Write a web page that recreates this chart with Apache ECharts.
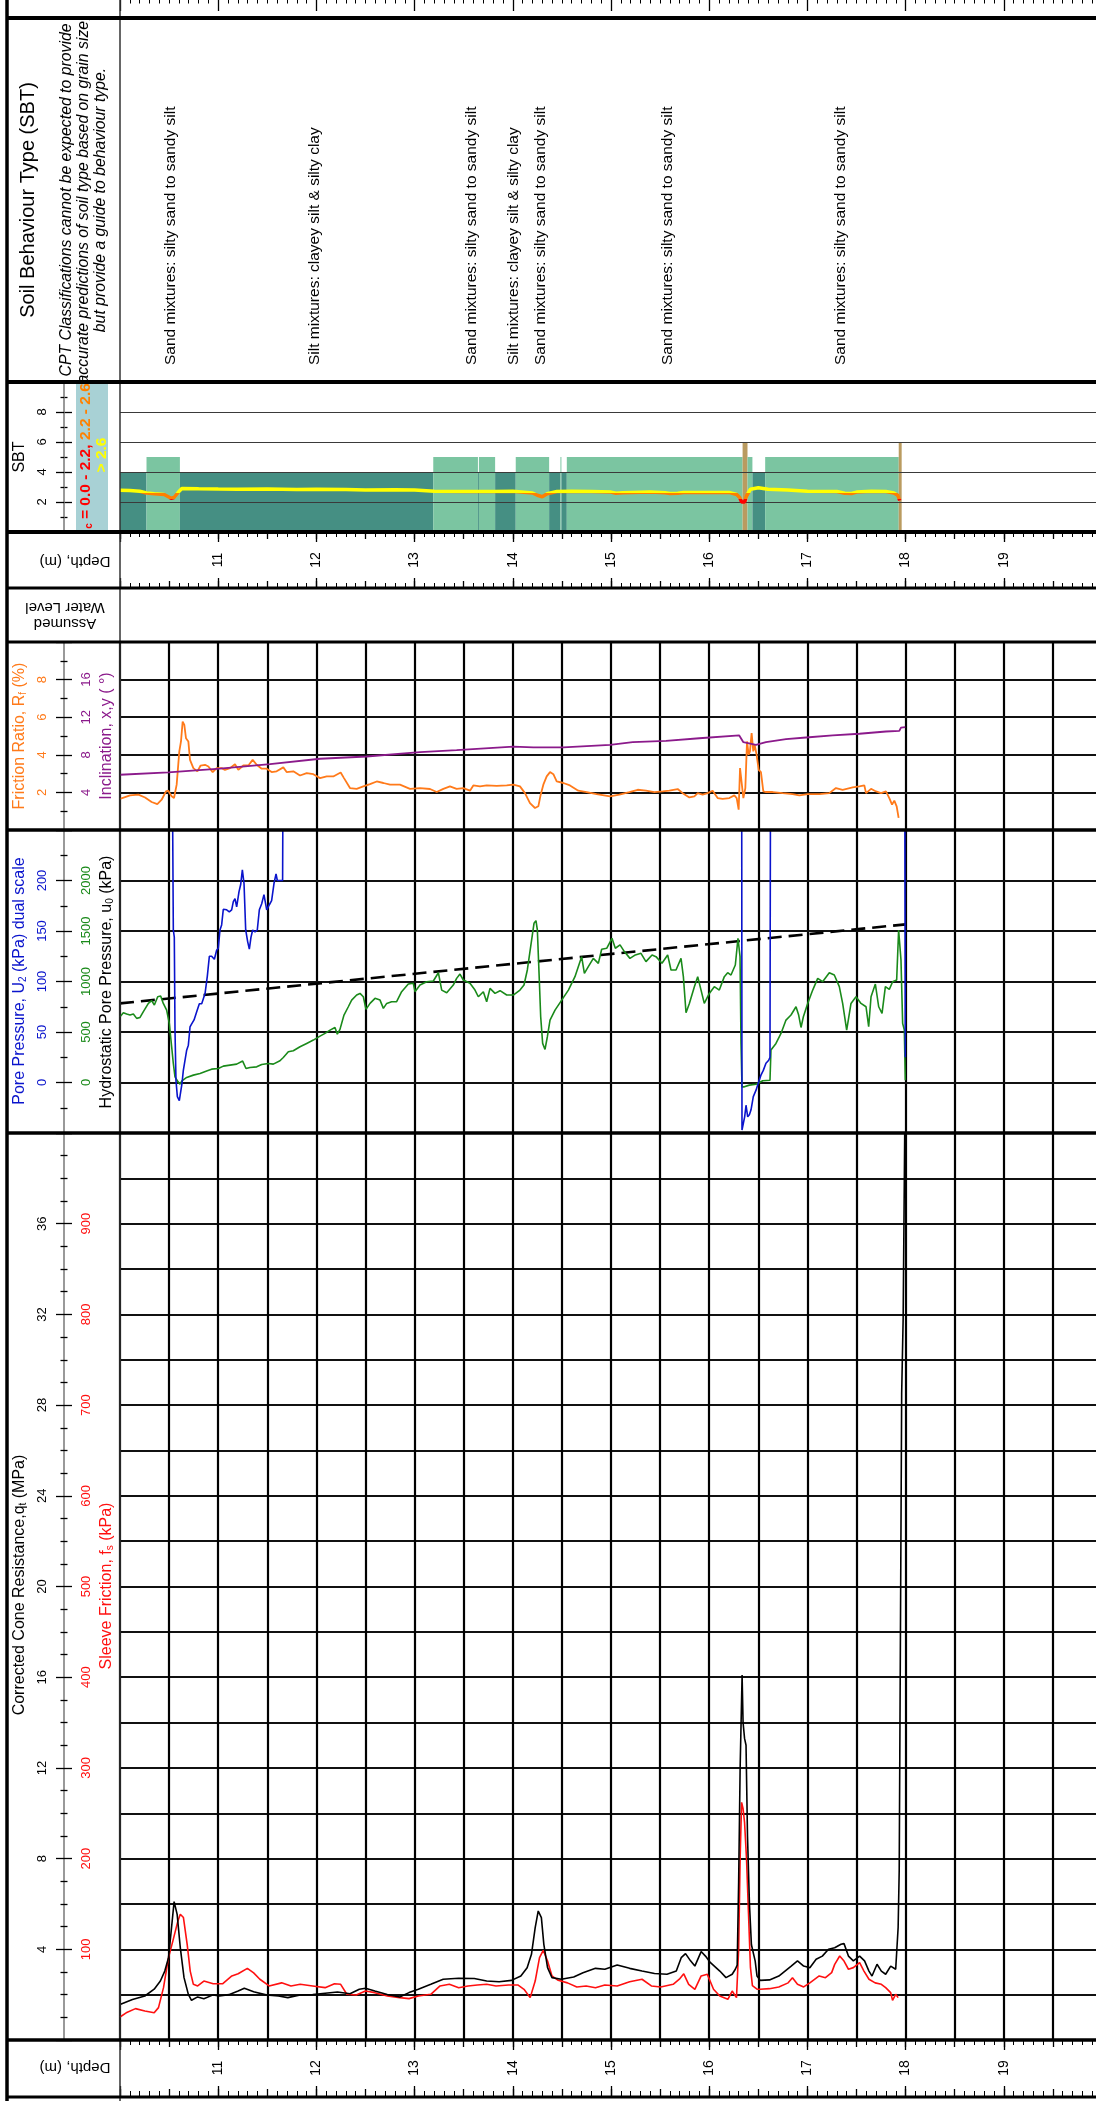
<!DOCTYPE html>
<html>
<head>
<meta charset="utf-8">
<title>CPT log</title>
<script src="https://cdn.jsdelivr.net/npm/echarts@6/dist/echarts.min.js"></script>
<style>
  html, body { margin: 0; padding: 0; background: #fff; }
  #chart { width: 1096px; height: 2101px; }
</style>
</head>
<body>
<div id="chart"></div>
<script>
// ---------------------------------------------------------------------------
// Data (depth in m)
// ---------------------------------------------------------------------------
const depthTickLabels = [11, 12, 13, 14, 15, 16, 17, 18, 19];

// Soil behaviour type zones: top, base, zone number
const zoneTop  = [10.00, 10.27, 10.61, 13.19, 13.645, 13.655, 13.82, 14.03, 14.37, 14.485, 14.495, 14.55, 16.34, 16.39, 16.44, 16.57, 17.93];
const zoneBase = [10.27, 10.61, 13.19, 13.645, 13.655, 13.82, 14.03, 14.37, 14.485, 14.495, 14.55, 16.34, 16.39, 16.44, 16.57, 17.93, 17.96];
const zoneNo   = [4, 5, 4, 5, 4, 5, 4, 5, 4, 5, 4, 5, 6, 5, 4, 5, 6];

// Interpreted layers with their description
const layerTop  = [10.27, 10.61, 13.19, 13.82, 14.03, 14.55, 16.57];
const layerBase = [10.61, 13.19, 13.82, 14.03, 14.37, 16.44, 17.95];
const layerName = [
  'Sand mixtures: silty sand to sandy silt',
  'Silt mixtures: clayey silt & silty clay',
  'Sand mixtures: silty sand to sandy silt',
  'Silt mixtures: clayey silt & silty clay',
  'Sand mixtures: silty sand to sandy silt',
  'Sand mixtures: silty sand to sandy silt',
  'Sand mixtures: silty sand to sandy silt'
];

// Soil behaviour type index Ic
const icProfile = [
  [10.00, 2.78], [10.10, 2.76], [10.20, 2.72], [10.27, 2.60], [10.35, 2.55], [10.45, 2.50],
  [10.52, 2.25], [10.55, 2.30], [10.60, 2.70], [10.63, 2.90], [10.80, 2.88], [11.00, 2.86],
  [11.20, 2.85], [11.50, 2.86], [11.80, 2.84], [12.00, 2.85], [12.30, 2.84], [12.50, 2.80],
  [12.80, 2.82], [13.00, 2.80], [13.20, 2.72], [13.50, 2.70], [13.80, 2.70], [14.00, 2.72],
  [14.20, 2.60], [14.25, 2.45], [14.30, 2.35], [14.35, 2.55], [14.45, 2.70], [14.60, 2.72],
  [14.80, 2.70], [15.00, 2.66], [15.05, 2.58], [15.12, 2.62], [15.40, 2.66], [15.55, 2.62],
  [15.60, 2.57], [15.68, 2.58], [15.74, 2.63], [16.00, 2.64], [16.20, 2.64], [16.28, 2.50],
  [16.31, 2.30], [16.33, 2.00], [16.36, 2.00], [16.38, 2.40], [16.42, 2.85], [16.50, 2.95],
  [16.60, 2.85], [16.80, 2.80], [17.00, 2.72], [17.30, 2.70], [17.38, 2.58], [17.45, 2.57],
  [17.50, 2.66], [17.65, 2.72], [17.80, 2.70], [17.88, 2.60], [17.92, 2.45], [17.94, 2.10]
];

// Friction ratio Rf (%)
const frictionRatio = [
  [10.000, 1.66], [10.102, 1.84], [10.187, 1.88], [10.255, 1.73], [10.322, 1.49], [10.380, 1.38],
  [10.424, 1.61], [10.468, 2.05], [10.492, 2.09], [10.526, 1.79], [10.550, 1.70], [10.577, 2.41],
  [10.604, 4.18], [10.621, 4.71], [10.638, 5.77], [10.655, 5.59], [10.672, 4.88], [10.696, 4.71],
  [10.713, 3.73], [10.747, 3.29], [10.788, 3.12], [10.821, 3.43], [10.866, 3.47], [10.900, 3.38],
  [10.944, 3.08], [10.984, 3.29], [11.035, 3.29], [11.069, 3.20], [11.120, 3.29], [11.171, 3.50],
  [11.205, 3.20], [11.256, 3.43], [11.307, 3.43], [11.351, 3.73], [11.392, 3.47], [11.443, 3.26],
  [11.494, 3.26], [11.544, 3.08], [11.595, 3.12], [11.663, 3.33], [11.697, 3.08], [11.765, 3.12],
  [11.833, 2.90], [11.901, 3.03], [11.969, 2.97], [12.037, 2.76], [12.105, 2.85], [12.172, 2.85],
  [12.247, 3.06], [12.281, 2.76], [12.342, 2.23], [12.410, 2.19], [12.478, 2.32], [12.546, 2.44],
  [12.614, 2.58], [12.682, 2.50], [12.750, 2.41], [12.851, 2.41], [12.953, 2.19], [13.055, 2.23],
  [13.157, 2.18], [13.225, 2.02], [13.293, 2.19], [13.360, 2.32], [13.428, 2.19], [13.496, 2.23],
  [13.564, 2.09], [13.598, 2.37], [13.666, 2.32], [13.734, 2.37], [13.836, 2.35], [13.938, 2.37],
  [14.005, 2.41], [14.073, 2.32], [14.124, 1.96], [14.175, 1.43], [14.226, 1.17], [14.260, 1.26],
  [14.284, 1.88], [14.311, 2.41], [14.345, 2.85], [14.379, 3.08], [14.413, 2.97], [14.447, 2.58],
  [14.515, 2.50], [14.582, 2.37], [14.667, 2.09], [14.752, 2.02], [14.854, 1.91], [14.990, 1.79],
  [15.085, 1.88], [15.187, 2.02], [15.272, 2.14], [15.356, 2.09], [15.441, 2.02], [15.526, 2.05],
  [15.594, 2.09], [15.679, 2.18], [15.730, 1.96], [15.798, 1.73], [15.849, 1.79], [15.883, 1.96],
  [15.933, 1.88], [15.984, 1.96], [16.035, 2.09], [16.086, 1.70], [16.137, 1.66], [16.205, 1.70],
  [16.256, 1.84], [16.280, 1.70], [16.300, 1.08], [16.314, 3.29], [16.331, 3.38], [16.348, 1.70],
  [16.368, 2.23], [16.385, 4.71], [16.402, 4.00], [16.415, 4.18], [16.432, 5.15], [16.449, 4.18],
  [16.463, 4.53], [16.483, 4.00], [16.504, 3.20], [16.527, 3.08], [16.551, 2.05], [16.578, 2.02],
  [16.646, 2.02], [16.748, 1.96], [16.850, 1.91], [16.918, 1.84], [17.003, 1.91], [17.122, 1.91],
  [17.223, 1.96], [17.291, 2.23], [17.359, 2.14], [17.461, 2.27], [17.529, 2.32], [17.580, 2.37],
  [17.597, 1.96], [17.648, 2.19], [17.699, 2.05], [17.750, 1.96], [17.800, 2.05], [17.834, 1.70],
  [17.862, 1.35], [17.885, 1.56], [17.909, 1.26], [17.929, 0.64]
];

// Cone inclination (degrees)
const inclination = [
  [10.000, 5.88], [10.492, 6.12], [11.018, 6.52], [11.528, 7.00], [12.037, 7.58], [12.512, 7.82],
  [13.055, 8.28], [13.428, 8.50], [14.005, 8.88], [14.209, 8.78], [14.515, 8.78], [14.990, 9.06],
  [15.221, 9.34], [15.560, 9.48], [15.899, 9.76], [16.306, 10.06], [16.348, 9.34], [16.476, 9.06],
  [16.578, 9.34], [16.782, 9.66], [16.986, 9.84], [17.258, 10.06], [17.529, 10.24], [17.800, 10.48],
  [17.936, 10.54], [17.953, 10.90], [17.997, 10.94]
];

// Pore pressure u2 (kPa), fine scale
const porePressure = [
  [10.000, 400], [10.520, 400], [10.536, 260], [10.543, 151], [10.553, 144], [10.560, 52],
  [10.570, 2], [10.584, -14], [10.604, -18], [10.621, -19], [10.631, -1], [10.645, 12],
  [10.662, 12], [10.679, 32], [10.696, 37], [10.713, 55], [10.730, 58], [10.754, 62],
  [10.781, 70], [10.808, 78], [10.832, 78], [10.866, 88], [10.889, 105], [10.910, 125],
  [10.933, 125], [10.961, 122], [10.984, 131], [11.001, 133], [11.018, 151], [11.035, 156],
  [11.052, 171.5], [11.086, 171], [11.113, 169], [11.137, 171], [11.154, 179], [11.171, 182],
  [11.188, 174], [11.212, 189], [11.229, 196], [11.246, 210.5], [11.263, 197], [11.280, 151],
  [11.300, 139.5], [11.317, 132], [11.334, 144], [11.351, 151], [11.375, 149], [11.398, 151],
  [11.419, 171], [11.443, 177], [11.466, 186], [11.494, 171], [11.521, 176], [11.544, 180],
  [11.568, 197], [11.589, 206.5], [11.602, 200], [11.656, 200], [11.663, 400], [16.330, 400],
  [16.334, -47], [16.348, -47], [16.361, -34], [16.375, -22.5], [16.392, -34], [16.409, -32],
  [16.426, -27], [16.449, -14], [16.477, -7.6], [16.504, 0.7], [16.527, 7.3], [16.551, 12],
  [16.578, 19], [16.606, 22], [16.619, 25], [16.626, 400], [17.990, 400], [17.997, 25]
];

// Pore pressure u2 (kPa), coarse scale
const porePressureCoarse = [
  [10.000, 651], [10.034, 691], [10.068, 678], [10.102, 668], [10.136, 678], [10.170, 635],
  [10.204, 644], [10.238, 701], [10.289, 783], [10.322, 810], [10.350, 767], [10.384, 849],
  [10.414, 856], [10.441, 783], [10.475, 717], [10.502, 585], [10.526, 354], [10.543, 188],
  [10.560, 56], [10.584, 17], [10.611, -17], [10.631, 17], [10.679, 50], [10.747, 73],
  [10.815, 89], [10.889, 116], [10.933, 132], [11.001, 139], [11.052, 162], [11.120, 172],
  [11.188, 182], [11.249, 212], [11.283, 139], [11.324, 149], [11.392, 155], [11.443, 178],
  [11.511, 188], [11.561, 182], [11.629, 215], [11.663, 248], [11.714, 304], [11.765, 314],
  [11.833, 354], [11.901, 387], [11.969, 420], [12.037, 459], [12.088, 486], [12.139, 519],
  [12.189, 545], [12.213, 479], [12.240, 526], [12.281, 668], [12.325, 750], [12.359, 816],
  [12.410, 866], [12.444, 882], [12.478, 849], [12.505, 724], [12.546, 783], [12.597, 833],
  [12.648, 816], [12.682, 734], [12.716, 783], [12.766, 800], [12.817, 800], [12.868, 899],
  [12.936, 975], [12.987, 982], [13.004, 899], [13.055, 965], [13.123, 998], [13.191, 1005],
  [13.242, 1087], [13.276, 915], [13.327, 889], [13.394, 965], [13.428, 1031], [13.462, 1074],
  [13.496, 1015], [13.564, 982], [13.615, 915], [13.649, 849], [13.700, 899], [13.734, 800],
  [13.768, 932], [13.819, 882], [13.870, 909], [13.938, 866], [14.005, 866], [14.073, 915],
  [14.114, 965], [14.148, 1114], [14.182, 1345], [14.216, 1576], [14.236, 1603], [14.250, 1510],
  [14.270, 1015], [14.284, 651], [14.304, 387], [14.328, 327], [14.352, 453], [14.379, 618],
  [14.430, 717], [14.498, 816], [14.566, 915], [14.633, 1048], [14.701, 1246], [14.729, 1081],
  [14.769, 1147], [14.820, 1229], [14.871, 1180], [14.905, 1319], [14.956, 1329], [15.010, 1428],
  [15.044, 1329], [15.092, 1362], [15.136, 1296], [15.193, 1229], [15.248, 1263], [15.305, 1279],
  [15.356, 1197], [15.418, 1263], [15.458, 1246], [15.519, 1180], [15.577, 1263], [15.611, 1114],
  [15.662, 1114], [15.713, 1229], [15.737, 1048], [15.764, 691], [15.798, 783], [15.849, 949],
  [15.883, 1048], [15.917, 915], [15.950, 783], [16.001, 882], [16.052, 949], [16.103, 915],
  [16.154, 1048], [16.188, 1087], [16.222, 1064], [16.266, 1163], [16.293, 1428], [16.314, 1246],
  [16.324, 387], [16.334, -43], [16.358, -43], [16.409, -26], [16.477, -17], [16.545, 17],
  [16.619, 23], [16.629, 321], [16.680, 387], [16.731, 486], [16.782, 618], [16.833, 668],
  [16.884, 750], [16.911, 668], [16.935, 545], [16.959, 651], [17.003, 783], [17.054, 915],
  [17.105, 1031], [17.155, 998], [17.223, 1087], [17.274, 1064], [17.325, 949], [17.359, 783],
  [17.400, 519], [17.444, 783], [17.495, 849], [17.546, 783], [17.597, 750], [17.624, 552],
  [17.648, 849], [17.692, 975], [17.726, 750], [17.760, 684], [17.794, 949], [17.834, 922],
  [17.868, 998], [17.909, 1015], [17.929, 1510], [17.953, 1213], [17.970, 585], [17.987, 519],
  [17.997, 23]
];

// Hydrostatic pore pressure u0 (kPa)
const hydrostatic = [[10.0, 78.3], [18.0, 156.6]];

// Corrected cone resistance qt (MPa)
const coneResistance = [
  [10.000, 1.57], [10.127, 1.79], [10.253, 1.94], [10.348, 2.24], [10.411, 2.60], [10.456, 3.04],
  [10.494, 3.63], [10.525, 4.96], [10.551, 6.10], [10.582, 5.54], [10.614, 4.07], [10.652, 2.75],
  [10.696, 2.01], [10.728, 1.75], [10.791, 1.90], [10.854, 1.82], [10.949, 1.99], [11.013, 1.94],
  [11.108, 2.00], [11.203, 2.16], [11.266, 2.28], [11.361, 2.13], [11.487, 1.99], [11.614, 1.94],
  [11.709, 1.87], [11.835, 1.99], [11.962, 2.00], [12.089, 2.06], [12.215, 2.12], [12.342, 2.04],
  [12.437, 2.24], [12.500, 2.28], [12.595, 2.16], [12.722, 2.01], [12.848, 1.90], [12.943, 2.09],
  [13.038, 2.24], [13.165, 2.46], [13.291, 2.68], [13.449, 2.72], [13.608, 2.71], [13.734, 2.60],
  [13.861, 2.57], [13.987, 2.63], [14.082, 2.82], [14.146, 3.19], [14.190, 3.78], [14.228, 4.96],
  [14.259, 5.69], [14.291, 5.40], [14.316, 4.22], [14.354, 3.19], [14.399, 2.75], [14.494, 2.68],
  [14.620, 2.78], [14.715, 2.97], [14.842, 3.16], [14.937, 3.12], [15.063, 3.31], [15.190, 3.16],
  [15.316, 3.04], [15.443, 2.93], [15.570, 2.90], [15.665, 3.04], [15.715, 3.63], [15.759, 3.81],
  [15.810, 3.49], [15.854, 3.26], [15.918, 3.90], [15.962, 3.70], [16.013, 3.41], [16.108, 3.04],
  [16.171, 2.75], [16.234, 2.90], [16.266, 3.12], [16.285, 3.30], [16.300, 7.0], [16.315, 12.0],
  [16.335, 16.1], [16.345, 14.0], [16.360, 13.3], [16.375, 13.0], [16.390, 9.0], [16.410, 6.0],
  [16.430, 4.2], [16.468, 3.49], [16.487, 2.82], [16.519, 2.63], [16.614, 2.65], [16.709, 2.82],
  [16.835, 3.26], [16.899, 3.49], [16.962, 3.26], [17.025, 3.19], [17.089, 3.56], [17.152, 3.70],
  [17.215, 4.00], [17.278, 4.07], [17.342, 4.22], [17.373, 4.25], [17.418, 3.70], [17.468, 3.49],
  [17.532, 3.70], [17.582, 3.49], [17.627, 3.04], [17.658, 2.82], [17.709, 3.34], [17.753, 3.04],
  [17.797, 2.90], [17.848, 3.26], [17.899, 3.12], [17.924, 4.96], [17.935, 7.5], [17.960, 28.5],
  [17.975, 31.8], [17.995, 42.0]
];

// Sleeve friction fs (kPa)
const sleeveFriction = [
  [10.000, 25.4], [10.063, 30.0], [10.158, 34.6], [10.253, 32.0], [10.348, 30.0], [10.392, 35.7],
  [10.443, 57.7], [10.494, 90.8], [10.538, 109], [10.589, 131], [10.614, 138.6], [10.646, 135],
  [10.684, 105.5], [10.715, 76], [10.747, 61.4], [10.791, 59.6], [10.854, 65], [10.949, 62],
  [11.044, 62], [11.139, 70.6], [11.203, 73], [11.297, 79], [11.361, 74], [11.424, 67],
  [11.519, 59.6], [11.646, 63], [11.741, 59.6], [11.835, 61.4], [11.962, 59.6], [12.089, 57.7],
  [12.184, 62], [12.247, 61.4], [12.310, 50.4], [12.405, 49.6], [12.500, 54], [12.595, 52.2],
  [12.722, 48.5], [12.848, 46.7], [12.943, 45.6], [13.038, 48.5], [13.165, 50.4], [13.259, 59.6],
  [13.354, 61.4], [13.449, 57.7], [13.544, 59.6], [13.639, 60.7], [13.734, 61.4], [13.829, 59.6],
  [13.956, 60.7], [14.051, 60.7], [14.114, 55.9], [14.177, 46.7], [14.228, 65], [14.272, 90.8],
  [14.310, 98.9], [14.354, 87], [14.399, 70.6], [14.462, 65.8], [14.557, 63], [14.652, 58.5],
  [14.747, 59.6], [14.842, 57.7], [14.937, 60.7], [15.063, 59.6], [15.190, 64.3], [15.316, 67],
  [15.411, 59.6], [15.506, 58.5], [15.633, 61.4], [15.696, 67], [15.741, 73], [15.791, 61.4],
  [15.854, 55.9], [15.918, 70.6], [15.981, 72.4], [16.044, 55.9], [16.108, 48.5], [16.190, 44.9],
  [16.234, 54], [16.278, 46.7], [16.290, 46.7], [16.300, 100], [16.315, 200], [16.330, 262],
  [16.345, 255], [16.360, 240], [16.380, 200], [16.400, 140], [16.420, 80], [16.440, 60],
  [16.490, 55.9], [16.519, 55.9], [16.614, 56.6], [16.709, 58.5], [16.804, 63.0], [16.848, 68.7],
  [16.899, 61.4], [16.962, 58.5], [17.025, 63.0], [17.120, 70.6], [17.184, 68.7], [17.247, 74.3],
  [17.278, 83.4], [17.329, 92.6], [17.373, 87.0], [17.418, 78.0], [17.468, 79.8], [17.532, 85.3],
  [17.576, 76.0], [17.627, 67.0], [17.690, 63.0], [17.753, 61.4], [17.797, 57.7], [17.848, 52.2],
  [17.867, 43.8], [17.899, 50.4], [17.924, 46.7]
];

// ---------------------------------------------------------------------------
// Styling and layout
// ---------------------------------------------------------------------------
const FONT = '"Liberation Sans", Arial, Helvetica, sans-serif';
const PLOT_LEFT = 120;
const PLOT_WIDTH = 982;          // 10 m of depth
const AXIS_OFFSET = 56;          // scale axes sit inside the label column
const ZONE_COLORS = { 4: '#458f83', 5: '#7bc5a1', 6: '#ba9b60' };
const C_RF = '#ff7a1a', C_INC = '#8b1a8b', C_U2 = '#0a14cc', C_U2C = '#1a8a1a', C_FS = '#ff1010';

const panels = [
  { top: 0,    height: 18 },   // 0 depth strip (continued)
  { top: 18,   height: 364 },  // 1 SBT description
  { top: 382,  height: 150 },  // 2 SBT
  { top: 532,  height: 56 },   // 3 depth
  { top: 642,  height: 188 },  // 4 friction ratio / inclination
  { top: 830,  height: 303 },  // 5 pore pressure
  { top: 1133, height: 907 },  // 6 cone resistance / sleeve friction
  { top: 2040, height: 56 }    // 7 depth
];
const grid = panels.map(p => ({
  left: PLOT_LEFT, width: PLOT_WIDTH, top: p.top, height: p.height,
  containLabel: false, outerBoundsMode: 'none', show: false
}));

function depthAxis(gi, extra) {
  return Object.assign({
    type: 'value', gridIndex: gi, min: 10, max: 20, interval: 1, position: 'bottom',
    axisLine: { show: false, onZero: false },
    axisTick: { show: false },
    minorTick: { show: false },
    axisLabel: { show: false },
    splitLine: { show: false }
  }, extra);
}
function tickAxis(gi, pos, len, minorLen, interval) {
  return depthAxis(gi, {
    position: pos, interval: interval,
    axisTick: { show: true, inside: true, length: len, lineStyle: { color: '#000', width: 1.3 } },
    minorTick: { show: minorLen > 0, splitNumber: 10, length: minorLen, lineStyle: { color: '#000', width: 1 } }
  });
}
const gridLines = { show: true, interval: 0.5, lineStyle: { color: '#000', width: 2.2 } };

const xAxis = [
  tickAxis(0, 'top', 11, 3.5, 1),                 // 0
  depthAxis(1),                                    // 1
  depthAxis(2),                                    // 2
  tickAxis(3, 'top', 10, 5, 1),                    // 3
  tickAxis(3, 'bottom', 10, 5, 1),                 // 4
  tickAxis(3, 'top', 7, 0, 0.5),                   // 5
  tickAxis(3, 'bottom', 7, 0, 0.5),                // 6
  depthAxis(4, { interval: 0.5, splitLine: gridLines }),  // 7
  depthAxis(5, { interval: 0.5, splitLine: gridLines }),  // 8
  depthAxis(6, { interval: 0.5, splitLine: gridLines }),  // 9
  tickAxis(7, 'top', 10, 5, 1),                    // 10
  tickAxis(7, 'bottom', 10, 5, 1),                 // 11
  tickAxis(7, 'top', 7, 0, 0.5),                   // 12
  tickAxis(7, 'bottom', 7, 0, 0.5)                 // 13
];

function hiddenY(gi, max) {
  return { type: 'value', gridIndex: gi, min: 0, max: max || 1, show: false };
}
function scaleAxis(gi, o) {
  return {
    type: 'value', gridIndex: gi, position: 'left', offset: AXIS_OFFSET,
    min: o.min, max: o.max, interval: o.interval, z: o.z || 1,
    axisLine: { show: !!o.line, onZero: false, lineStyle: { color: '#777', width: 1.5 } },
    axisTick: { show: true, inside: !!o.inside, length: 8, lineStyle: { color: '#000', width: 1.3 } },
    minorTick: { show: true, splitNumber: o.minor, length: 3.5, lineStyle: { color: '#000', width: 1.3 } },
    axisLabel: {
      show: !!o.color, inside: !!o.inside, rotate: 90, margin: o.inside ? 16 : 15,
      color: o.color, fontSize: 13, fontFamily: FONT, showMinLabel: false, showMaxLabel: false,
      formatter: v => String(v)
    },
    splitLine: { show: !!o.split, lineStyle: o.split || {} }
  };
}

const yAxis = [
  hiddenY(0),                                                                         // 0
  hiddenY(1, 364),                                                                    // 1
  scaleAxis(2, { min: 0, max: 10, interval: 2, minor: 2, line: true, color: '#000', z: 3,
                 split: { color: '#3a3a3a', width: 1.2 } }),                          // 2
  scaleAxis(2, { min: 0, max: 10, interval: 2, minor: 2, inside: true }),              // 3
  hiddenY(3),                                                                         // 4
  scaleAxis(4, { min: 0, max: 10, interval: 2, minor: 2, line: true, color: C_RF,
                 split: { color: '#111', width: 1.8 } }),                             // 5
  scaleAxis(4, { min: 0, max: 20, interval: 4, minor: 2, inside: true, color: C_INC }), // 6
  scaleAxis(5, { min: -50, max: 250, interval: 50, minor: 2, line: true, color: C_U2,
                 split: { color: '#111', width: 1.8 } }),                             // 7
  scaleAxis(5, { min: -500, max: 2500, interval: 500, minor: 2, inside: true, color: C_U2C }), // 8
  scaleAxis(6, { min: 0, max: 40, interval: 4, minor: 4, line: true, color: '#000' }),  // 9
  scaleAxis(6, { min: 0, max: 1000, interval: 100, minor: 4, inside: true, color: C_FS }), // 10
  {                                                                                   // 11
    type: 'value', gridIndex: 6, min: 0, max: 40, interval: 2, position: 'left',
    axisLine: { show: false, onZero: false }, axisTick: { show: false }, axisLabel: { show: false },
    splitLine: { show: true, lineStyle: { color: '#111', width: 1.8 } }
  },
  hiddenY(7)                                                                          // 12
];

function line(xi, yi, data, color, width, extra) {
  return Object.assign({
    type: 'line', xAxisIndex: xi, yAxisIndex: yi, data: data,
    showSymbol: false, symbol: 'none', clip: true, silent: true, z: 4,
    lineStyle: { color: color, width: width }
  }, extra || {});
}

function depthLabels(xi, yi) {
  return {
    type: 'custom', xAxisIndex: xi, yAxisIndex: yi, silent: true, z: 5,
    data: depthTickLabels.map(d => [d, 0.5]),
    renderItem(params, api) {
      const p = api.coord([api.value(0), api.value(1)]);
      return {
        type: 'text', x: p[0], y: p[1], rotation: Math.PI / 2,
        style: { text: String(api.value(0)), fontSize: 14, fontFamily: FONT, fill: '#000',
                 align: 'center', verticalAlign: 'middle' }
      };
    }
  };
}

const series = [
  // 0: SBT zones
  {
    type: 'custom', xAxisIndex: 2, yAxisIndex: 2, silent: true, z: 2,
    data: zoneTop.map((t, i) => [t, zoneBase[i], zoneNo[i]]),
    encode: { x: [0, 1], y: 2 },
    renderItem(params, api) {
      const a = api.coord([api.value(0), 0]);
      const b = api.coord([api.value(1), api.value(2)]);
      return {
        type: 'rect',
        shape: { x: a[0], y: b[1], width: b[0] - a[0], height: a[1] - b[1] },
        style: { fill: ZONE_COLORS[api.value(2)] }
      };
    }
  },
  // 1: Ic
  line(2, 2, icProfile, null, 3.5, { z: 6, lineStyle: { width: 3.5 } }),
  // 2-3: friction ratio and inclination
  line(7, 5, frictionRatio, C_RF, 1.8),
  line(7, 6, inclination, C_INC, 1.8),
  // 4-6: pore pressures
  line(8, 7, hydrostatic, '#000', 2.6, { lineStyle: { color: '#000', width: 2.6, type: [14, 7] } }),
  line(8, 8, porePressureCoarse, C_U2C, 1.6),
  line(8, 7, porePressure, C_U2, 1.6),
  // 7-8: sleeve friction and cone resistance
  line(9, 10, sleeveFriction, C_FS, 1.6),
  line(9, 9, coneResistance, '#000', 1.6),
  // 9: layer descriptions
  {
    type: 'custom', xAxisIndex: 1, yAxisIndex: 1, silent: true, z: 5,
    data: layerTop.map((t, i) => [(t + layerBase[i]) / 2, 0]),
    renderItem(params, api) {
      const p = api.coord([api.value(0), api.value(1)]);
      return {
        type: 'text', x: p[0], y: p[1] - 17, rotation: Math.PI / 2,
        style: { text: layerName[params.dataIndex], fontSize: 15.5, fontFamily: FONT, fill: '#000',
                 align: 'left', verticalAlign: 'top' }
      };
    }
  },
  // 10-11: depth labels
  depthLabels(3, 4),
  depthLabels(11, 12)
];

// ---------------------------------------------------------------------------
// Label column and panel frames
// ---------------------------------------------------------------------------
function vtext(x, y, text, opts) {
  opts = opts || {};
  return {
    type: 'text', x: x, y: y, rotation: opts.rotation == null ? Math.PI / 2 : opts.rotation, z: 20,
    style: Object.assign({
      text: text, fontSize: opts.size || 16, fontFamily: FONT, fill: opts.color || '#000',
      align: 'center', verticalAlign: 'middle'
    }, opts.style || {})
  };
}
function sub(color) {
  return { s: { fontSize: 10, fontFamily: FONT, fill: color, verticalAlign: 'bottom', padding: [6, 0, 0, 0] } };
}
function hline(y, w) {
  return { type: 'line', z: 30, shape: { x1: 6, y1: y, x2: 1096, y2: y }, style: { stroke: '#000', lineWidth: w } };
}

const graphic = [
  // legend box for Ic
  { type: 'rect', z: 10, shape: { x: 76, y: 382, width: 32, height: 150 }, style: { fill: '#a8d1d5' } },
  vtext(86, 456, '{r|I}{rs|c}{r| = 0.0 - 2.2,} {o|2.2 - 2.6,}', {
    style: {
      rich: {
        r:  { fill: '#ff0000', fontSize: 15.5, fontWeight: 'bold', fontFamily: FONT },
        rs: { fill: '#ff0000', fontSize: 10, fontWeight: 'bold', fontFamily: FONT, verticalAlign: 'bottom' },
        o:  { fill: '#ff8000', fontSize: 15.5, fontWeight: 'bold', fontFamily: FONT }
      }
    }
  }),
  vtext(102, 455, '> 2.6', { size: 15.5, color: '#ffff00', style: { fontWeight: 'bold' } }),
  // SBT description column
  vtext(28, 200, 'Soil Behaviour Type (SBT)', { size: 20 }),
  vtext(84, 200, 'CPT Classifications cannot be expected to provide\naccurate predictions of soil type based on grain size,\nbut provide a guide to behaviour type.',
        { size: 15.8, style: { fontStyle: 'italic', lineHeight: 17 } }),
  vtext(20, 457, 'SBT', { size: 16 }),
  // depth and water level columns
  vtext(75, 561, 'Depth, (m)', { size: 15, rotation: Math.PI }),
  vtext(65, 615, 'Assumed\nWater Level', { size: 15, rotation: Math.PI, style: { lineHeight: 16 } }),
  vtext(75, 2067, 'Depth, (m)', { size: 15, rotation: Math.PI }),
  // axis titles
  vtext(20, 736, 'Friction Ratio, R{s|f} (%)', { color: C_RF, style: { rich: sub(C_RF) } }),
  vtext(107, 736, 'Inclination, x,y ( °)', { color: C_INC }),
  vtext(20, 981, 'Pore Pressure, U{s|2} (kPa) dual scale', { color: C_U2, style: { rich: sub(C_U2) } }),
  vtext(107, 982, 'Hydrostatic Pore Pressure, u{s|0} (kPa)', { color: '#000', style: { rich: sub('#000') } }),
  vtext(20, 1585, 'Corrected Cone Resistance,q{s|t} (MPa)', { color: '#000', style: { rich: sub('#000') } }),
  vtext(107, 1586, 'Sleeve Friction, f{s|s} (kPa)', { color: C_FS, style: { rich: sub(C_FS) } }),
  // frame
  { type: 'line', z: 30, shape: { x1: 120, y1: 0, x2: 120, y2: 2101 }, style: { stroke: '#333', lineWidth: 1.5 } },
  { type: 'line', z: 31, shape: { x1: 7, y1: 0, x2: 7, y2: 2101 }, style: { stroke: '#000', lineWidth: 3.5 } },
  hline(18, 4), hline(382, 4), hline(532, 4), hline(588, 3), hline(642, 3),
  hline(830, 3.5), hline(1133, 3.5), hline(2040, 3.5), hline(2097, 3)
];

const chart = echarts.init(document.getElementById('chart'), null, { renderer: 'canvas' });
chart.setOption({
  animation: false,
  backgroundColor: '#ffffff',
  textStyle: { fontFamily: FONT },
  grid: grid,
  xAxis: xAxis,
  yAxis: yAxis,
  visualMap: [{
    type: 'piecewise', show: false, seriesIndex: 1, dimension: 1,
    pieces: [
      { lt: 2.2, color: '#ff0000' },
      { gte: 2.2, lt: 2.6, color: '#ff7f00' },
      { gte: 2.6, color: '#ffff00' }
    ]
  }],
  series: series,
  graphic: graphic
});
</script>
</body>
</html>
